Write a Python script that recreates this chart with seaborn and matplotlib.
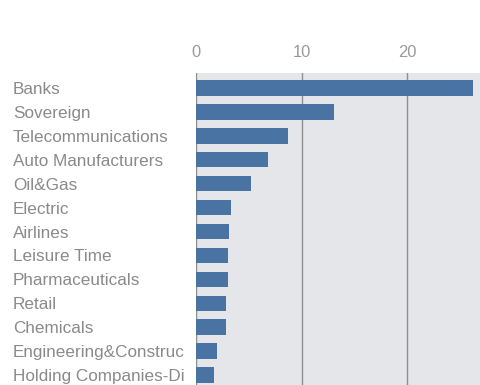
import matplotlib
matplotlib.use("Agg")
import matplotlib.pyplot as plt
import seaborn as sns
import pandas as pd

# Exposure counts by industry sector
sectors = [
    "Banks", "Sovereign", "Telecommunications", "Auto Manufacturers",
    "Oil&Gas", "Electric", "Airlines", "Leisure Time", "Pharmaceuticals",
    "Retail", "Chemicals", "Engineering&Construc", "Holding Companies-Di",
]
counts = [26.2, 13.1, 8.7, 6.8, 5.2, 3.3, 3.1, 3.0, 3.0, 2.8, 2.8, 2.0, 1.7]
x_ticks = [0, 10, 20]

df = pd.DataFrame({"sector": sectors, "count": counts})

sns.set_theme(style="white")
plt.rcParams["font.family"] = ["Liberation Sans", "DejaVu Sans"]

fig = plt.figure(figsize=(4.81, 3.85), dpi=100)
ax = fig.add_axes([196 / 481, 0.0, 1 - 196 / 481, 1 - 73 / 385])
ax.set_facecolor("#e4e6e9")

sns.barplot(data=df, x="count", y="sector", color="#4873a3", saturation=1,
            width=0.64, linewidth=0, ax=ax, zorder=3)

ax.set_xlim(0, 27)
ax.set_ylim(12.42, -0.63)
ax.set_xticks(x_ticks)
ax.xaxis.tick_top()
ax.tick_params(axis="x", length=0, pad=9.4, labelsize=11.9, labelcolor="#9a9a9a")
ax.tick_params(axis="y", length=0, labelsize=12.3, labelcolor="#8a8a8a", pad=131.8)
for lab in ax.get_yticklabels():
    lab.set_horizontalalignment("left")
ax.grid(axis="x", color="#8f8f8f", linewidth=1.0, zorder=1)
ax.set_axisbelow(True)
ax.set_xlabel("")
ax.set_ylabel("")
for s in ax.spines.values():
    s.set_visible(False)

fig.savefig("out.png", dpi=100)
